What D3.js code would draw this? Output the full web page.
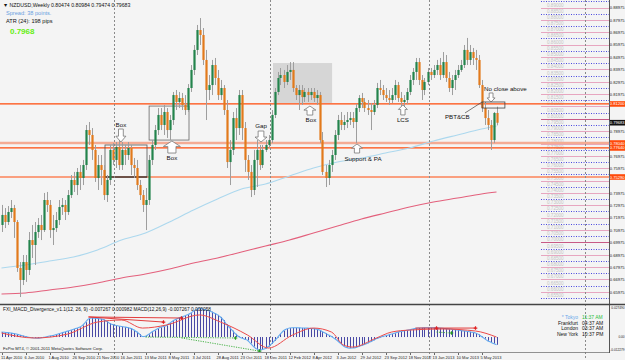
<!DOCTYPE html>
<html><head><meta charset="utf-8">
<script src="https://cdn.jsdelivr.net/npm/d3@7"></script>
<style>
html,body{margin:0;padding:0;background:#f4f4f4;}
svg{display:block;}
text{font-family:"Liberation Sans",Arial,sans-serif;}
</style></head><body>
<svg id="c" width="625" height="360"></svg>
<script>
// ---------- DATA ----------
const symbol = "NZDUSD,Weekly";
const headerOHLC = ["0.80474","0.80984","0.79474","0.79683"];
const startDate = new Date(2010, 3, 11);
const opens = [0.7141,0.7222,0.7165,0.7246,0.7278,0.7165,0.6793,0.6696,0.6841,0.6777,
0.7019,0.6979,0.7084,0.7141,0.7100,0.7343,0.7303,0.7100,0.7116,0.7181,
0.7286,0.7303,0.7246,0.7383,0.7505,0.7464,0.7570,0.7521,0.7626,0.7909,
0.7869,0.7748,0.7521,0.7626,0.7586,0.7383,0.7505,0.7748,0.7667,0.7772,
0.7626,0.7748,0.7707,0.7764,0.7626,0.7602,0.7464,0.7383,0.7303,0.7343,
0.7667,0.7788,0.7909,0.8031,0.7950,0.8055,0.7909,0.7990,0.8192,0.8136,
0.8168,0.8112,0.8071,0.8249,0.8395,0.8557,0.8718,0.8678,0.8476,0.8233,
0.8273,0.8435,0.8330,0.8192,0.8249,0.8071,0.7650,0.7748,0.8006,0.7925,
0.8192,0.7925,0.7667,0.7570,0.7424,0.7667,0.7748,0.7626,0.7748,0.7788,
0.7828,0.8031,0.8217,0.8330,0.8354,0.8298,0.8379,0.8395,0.8249,0.8192,
0.8233,0.8176,0.8217,0.8192,0.8217,0.8168,0.8192,0.7828,0.7570,0.7521,
0.7626,0.7707,0.7869,0.7990,0.7950,0.7974,0.7990,0.8006,0.7974,0.8087,
0.8168,0.8136,0.8087,0.8071,0.8055,0.8112,0.8249,0.8233,0.8192,0.8168,
0.8152,0.8192,0.8273,0.8168,0.8136,0.8152,0.8217,0.8314,0.8379,0.8459,
0.8314,0.8233,0.8298,0.8379,0.8354,0.8395,0.8435,0.8354,0.8459,0.8330,
0.8249,0.8314,0.8354,0.8395,0.8435,0.8557,0.8476,0.8540,0.8492,0.8476,
0.8273,0.8087,0.8006,0.7950,0.7828,0.8047];
const highs = [0.7303,0.7278,0.7294,0.7343,0.7303,0.7181,0.6841,0.6898,0.6898,0.7084,
0.7141,0.7165,0.7197,0.7222,0.7400,0.7408,0.7343,0.7222,0.7246,0.7343,
0.7359,0.7343,0.7424,0.7545,0.7570,0.7602,0.7626,0.7667,0.7950,0.7974,
0.7925,0.7788,0.7707,0.7707,0.7626,0.7545,0.7788,0.7804,0.7812,0.7828,
0.7812,0.7788,0.7812,0.7788,0.7683,0.7667,0.7505,0.7424,0.7440,0.7707,
0.7828,0.7950,0.8087,0.8087,0.8112,0.8087,0.8031,0.8217,0.8233,0.8217,
0.8209,0.8192,0.8281,0.8435,0.8597,0.8759,0.8815,0.8734,0.8557,0.8354,
0.8476,0.8492,0.8395,0.8314,0.8273,0.8152,0.7828,0.8055,0.8087,0.8233,
0.8233,0.7974,0.7707,0.7626,0.7748,0.7828,0.7788,0.7788,0.7828,0.7869,
0.8071,0.8249,0.8379,0.8411,0.8395,0.8435,0.8459,0.8459,0.8273,0.8273,
0.8273,0.8249,0.8249,0.8249,0.8249,0.8233,0.8217,0.7893,0.7626,0.7667,
0.7748,0.7909,0.8031,0.8055,0.8031,0.8055,0.8055,0.8055,0.8120,0.8192,
0.8209,0.8168,0.8152,0.8128,0.8152,0.8290,0.8314,0.8273,0.8249,0.8233,
0.8249,0.8314,0.8298,0.8217,0.8192,0.8249,0.8354,0.8411,0.8492,0.8492,
0.8354,0.8330,0.8411,0.8411,0.8435,0.8476,0.8492,0.8540,0.8516,0.8379,
0.8354,0.8395,0.8435,0.8476,0.8597,0.8654,0.8597,0.8573,0.8557,0.8516,
0.8314,0.8136,0.8071,0.7990,0.8055,0.8098];
const lows = [0.7084,0.7116,0.7141,0.7197,0.7036,0.6761,0.6558,0.6655,0.6680,0.6736,
0.6874,0.6817,0.7036,0.7019,0.7084,0.7246,0.7036,0.6979,0.7084,0.7141,
0.7222,0.7181,0.7222,0.7359,0.7408,0.7383,0.7424,0.7464,0.7586,0.7788,
0.7667,0.7489,0.7424,0.7464,0.7343,0.7327,0.7464,0.7626,0.7602,0.7586,
0.7586,0.7626,0.7667,0.7545,0.7521,0.7424,0.7343,0.7246,0.7100,0.7303,
0.7626,0.7748,0.7869,0.7909,0.7869,0.7845,0.7828,0.7950,0.8071,0.8087,
0.8071,0.8031,0.8055,0.8217,0.8354,0.8516,0.8597,0.8435,0.7990,0.8152,
0.8192,0.8273,0.8152,0.8152,0.8031,0.7602,0.7464,0.7707,0.7828,0.7869,
0.7828,0.7570,0.7505,0.7367,0.7383,0.7448,0.7586,0.7602,0.7731,0.7764,
0.7804,0.8006,0.8192,0.8273,0.8249,0.8273,0.8314,0.8217,0.8152,0.8071,
0.8112,0.8136,0.8136,0.8152,0.8136,0.8112,0.7804,0.7545,0.7448,0.7464,
0.7570,0.7667,0.7828,0.7909,0.7909,0.7925,0.7950,0.7925,0.7804,0.8055,
0.8087,0.8055,0.8031,0.7909,0.8031,0.8087,0.8192,0.8152,0.8136,0.8112,
0.8128,0.8152,0.8136,0.8087,0.8087,0.8120,0.8192,0.8273,0.8314,0.8273,
0.8152,0.8192,0.8273,0.8314,0.8330,0.8354,0.8314,0.8330,0.8298,0.8217,
0.8192,0.8233,0.8330,0.8379,0.8411,0.8435,0.8435,0.8435,0.8395,0.8249,
0.8055,0.7950,0.7909,0.7748,0.7804,0.7947];
const closes = [0.7222,0.7165,0.7246,0.7278,0.7165,0.6793,0.6696,0.6841,0.6777,0.7019,
0.6979,0.7084,0.7141,0.7100,0.7343,0.7303,0.7100,0.7116,0.7181,0.7286,
0.7303,0.7246,0.7383,0.7505,0.7464,0.7570,0.7521,0.7626,0.7909,0.7869,
0.7748,0.7521,0.7626,0.7586,0.7383,0.7505,0.7748,0.7667,0.7772,0.7626,
0.7748,0.7707,0.7764,0.7626,0.7602,0.7464,0.7383,0.7303,0.7343,0.7667,
0.7788,0.7909,0.8031,0.7950,0.8055,0.7909,0.7990,0.8192,0.8136,0.8168,
0.8112,0.8071,0.8249,0.8395,0.8557,0.8718,0.8678,0.8476,0.8233,0.8273,
0.8435,0.8330,0.8192,0.8249,0.8071,0.7650,0.7748,0.8006,0.7925,0.8192,
0.7925,0.7667,0.7570,0.7424,0.7667,0.7748,0.7626,0.7748,0.7788,0.7828,
0.8031,0.8217,0.8330,0.8354,0.8298,0.8379,0.8395,0.8249,0.8192,0.8233,
0.8176,0.8217,0.8192,0.8217,0.8168,0.8192,0.7828,0.7570,0.7521,0.7626,
0.7707,0.7869,0.7990,0.7950,0.7974,0.7990,0.8006,0.7974,0.8087,0.8168,
0.8136,0.8087,0.8071,0.8055,0.8112,0.8249,0.8233,0.8192,0.8168,0.8152,
0.8192,0.8273,0.8168,0.8136,0.8152,0.8217,0.8314,0.8379,0.8459,0.8314,
0.8233,0.8298,0.8379,0.8354,0.8395,0.8435,0.8354,0.8459,0.8330,0.8249,
0.8314,0.8354,0.8395,0.8435,0.8557,0.8476,0.8540,0.8492,0.8476,0.8273,
0.8087,0.8006,0.7950,0.7828,0.8047,0.7968];

// moving averages read at every 8th bar (and the last)
const maIdx   = [0,8,16,24,32,40,48,56,64,72,80,88,96,104,112,120,128,136,144,152,160,165];
const maBlue  = [0.6793,0.6817,0.6850,0.6882,0.6939,0.7019,0.7076,0.7165,0.7262,0.7351,0.7432,0.7472,0.7537,0.7602,0.7650,0.7683,0.7723,0.7764,0.7820,0.7869,0.7917,0.7942];
const maRed   = [0.6583,0.6591,0.6615,0.6639,0.6672,0.6712,0.6744,0.6785,0.6833,0.6874,0.6922,0.6971,0.7019,0.7076,0.7133,0.7189,0.7238,0.7286,0.7327,0.7359,0.7392,0.7408];

// horizontal levels
const levels = [0.8120, 0.7804, 0.7764, 0.7529];
const levelLabels = ["0.81200","0.78040","0.77640","0.75290"];
const currentPrice = 0.79683;

// right price axis labels
const priceTicks = [0.88975,0.87975,0.86975,0.85975,0.84975,0.83975,0.82975,0.81975,0.80975,0.79975,0.78975,0.77975,0.76975,0.75975,0.74975,0.73975,0.72975,0.71975,0.70975,0.69975,0.68975,0.67975,0.66975,0.65975];

// MACD histogram per bar
const macd = [0.0047,0.0045,0.0042,0.0038,0.0034,0.0028,0.0020,0.0012,0.0005,-0.0002,
-0.0007,-0.0009,-0.0010,-0.0008,-0.0003,0.0003,0.0009,0.0015,0.0022,0.0030,
0.0038,0.0047,0.0056,0.0064,0.0074,0.0083,0.0092,0.0110,0.0140,0.0172,
0.0180,0.0178,0.0176,0.0172,0.0165,0.0150,0.0130,0.0118,0.0112,0.0105,
0.0100,0.0095,0.0090,0.0082,0.0068,0.0050,0.0028,0.0005,0.0008,0.0025,
0.0045,0.0062,0.0078,0.0092,0.0100,0.0110,0.0130,0.0150,0.0165,0.0180,
0.0190,0.0200,0.0210,0.0225,0.0245,0.0262,0.0275,0.0265,0.0258,0.0250,
0.0240,0.0225,0.0210,0.0190,0.0160,0.0120,0.0090,0.0060,0.0030,0.0005,
-0.0010,-0.0020,-0.0030,-0.0060,-0.0090,-0.0112,-0.0123,-0.0118,-0.0108,-0.0090,
-0.0065,-0.0035,-0.0005,0.0030,0.0060,0.0075,0.0085,0.0088,0.0088,0.0087,
0.0086,0.0085,0.0084,0.0082,0.0080,0.0075,0.0066,0.0050,0.0035,0.0020,
0.0005,-0.0015,-0.0035,-0.0060,-0.0085,-0.0100,-0.0105,-0.0104,-0.0100,-0.0090,
-0.0080,-0.0070,-0.0058,-0.0045,-0.0030,-0.0015,-0.0005,0.0005,0.0012,0.0020,
0.0028,0.0035,0.0045,0.0052,0.0058,0.0064,0.0068,0.0075,0.0082,0.0085,
0.0086,0.0087,0.0088,0.0088,0.0087,0.0086,0.0085,0.0083,0.0080,0.0077,
0.0074,0.0070,0.0066,0.0062,0.0058,0.0055,0.0050,0.0045,0.0038,0.0025,
0.0005,-0.0015,-0.0035,-0.0048,-0.0062,-0.0073];
const sigIdx = [0,11,22,32,40,47,55,66,73,82,89,97,104,110,114,117,125,130,136,147,158,165];
const sigVal = [0.0038,-0.0009,0.0028,0.0142,0.0161,0.0085,0.0114,0.0209,0.0142,0.0019,-0.0104,0.0019,0.0085,0.0047,-0.0076,-0.0095,-0.0009,0.0047,0.0066,0.0076,0.0057,0.0000];
const divRed   = [[29,0.0190,60,0.0180],[29,0.0190,54,0.0142],[138,0.0085,145,0.0085],[145,0.0085,158,0.0085]];
const divGreen = [[48,0.0000,78,-0.0009],[60,-0.0009,86,-0.0133],[145,0.0047,150,0.0038]];
const indTicks = [0.027490, 0.0, -0.012279];
const indTickLabels = ["0.027490","0.00","-0.012279"];

const sessions = [["* Tokyo","11:37 AM"],["Frankfurt","04:37 AM"],["London","03:37 AM"],["New York","10:37 PM"]];

// ---------- CHART ----------
const svg = d3.select("#c");
const W = 625, H = 360, R = 609;
const n = closes.length;
const x = d3.scaleLinear().domain([0, n-1]).range([1.5, 1.5 + 3*(n-1)]);
const y = d3.scaleLinear().domain([0.6534, 0.8961]).range([300, 0]);
const yI = d3.scaleLinear().domain([-0.012279, 0.027490]).range([350, 308]);

svg.append("rect").attr("width",W).attr("height",H).attr("fill","#f4f4f4");
const defs = svg.append("defs");
defs.append("clipPath").attr("id","mclip").append("rect").attr("x",0).attr("y",0).attr("width",R).attr("height",301);
defs.append("clipPath").attr("id","iclip").append("rect").attr("x",0).attr("y",306).attr("width",R).attr("height",46);

const main = svg.append("g").attr("clip-path","url(#mclip)");

function rectAnn(g, i0, i1, pT, pB){
  return g.append("rect").attr("x",x(i0)).attr("y",y(pT)).attr("width",x(i1)-x(i0)).attr("height",y(pB)-y(pT));
}
rectAnn(main, 90.5, 110.2, 0.8451, 0.8128).attr("fill","#d6d6d6");

// right side grid
const gridK = d3.range(131, 180);
gridK.forEach(k => {
  const p = k*0.005, yy = Math.round(y(p)) + 0.5;
  const blue = k % 2 === 1;
  const strong = (k === 140 || k === 160);
  main.append("line").attr("x1",541).attr("x2",R).attr("y1",yy).attr("y2",yy)
    .attr("stroke", blue ? "#4a4ae0" : (strong ? "#c85a86" : "#e7a6c0"))
    .attr("stroke-width", 1).attr("stroke-dasharray", blue ? "1,1.5" : null);
  if (yy > 6) main.append("text").attr("x",547).attr("y",yy-1.2).attr("font-size",4.6).attr("fill","#c4c4c4").text(p.toFixed(5));
});

// year separators
const allDates = d3.range(200).map(i => d3.timeWeek.offset(startDate, i));
const seps = [];
for (let i=1;i<allDates.length;i++) if (allDates[i].getFullYear()!==allDates[i-1].getFullYear()) seps.push(i);
seps.forEach(i => {
  const xx = Math.round(x(i)) - 1.5;
  if (xx < R) svg.append("line").attr("x1",xx).attr("x2",xx).attr("y1",0).attr("y2",H)
    .attr("stroke","#8a8a8a").attr("stroke-dasharray","2,2").attr("stroke-width",1);
});

// horizontal levels
levels.forEach((p,j) => {
  const yy = y(p);
  main.append("line").attr("x1",0).attr("x2",R).attr("y1",yy).attr("y2",yy)
    .attr("stroke", j===1 ? "#f4ab94" : "#ff4a0a").attr("stroke-width", j===1 ? 2.6 : 1.2);
});

// moving averages
const maLine = d3.line().x(d=>x(d[0])).y(d=>y(d[1])).curve(d3.curveMonotoneX);
main.append("path").attr("d", maLine(maIdx.map((i,k)=>[i,maBlue[k]]))).attr("fill","none").attr("stroke","#acd8ee").attr("stroke-width",1.1);
main.append("path").attr("d", maLine(maIdx.map((i,k)=>[i,maRed[k]]))).attr("fill","none").attr("stroke","#e3607c").attr("stroke-width",1.1);

// box outlines
rectAnn(main, 34.5, 48.5, 0.7788, 0.7529).attr("fill","none").attr("stroke","#555").attr("stroke-width",0.8);
main.append("line").attr("x1",x(34.5)).attr("x2",x(48.5)).attr("y1",y(0.7529)).attr("y2",y(0.7529)).attr("stroke","#222").attr("stroke-width",1);
rectAnn(main, 49.2, 62.5, 0.8103, 0.7828).attr("fill","none").attr("stroke","#666").attr("stroke-width",0.8);

// candles
const bars = d3.range(n);
const cg = main.append("g");
cg.selectAll("line.w").data(bars).join("line")
  .attr("x1",i=>Math.round(x(i))+0.5).attr("x2",i=>Math.round(x(i))+0.5)
  .attr("y1",i=>y(highs[i])).attr("y2",i=>y(lows[i]))
  .attr("stroke","#9e9e9e").attr("stroke-width",1);
cg.selectAll("rect.b").data(bars).join("rect")
  .attr("x",i=>Math.round(x(i))-0.6).attr("width",2.2)
  .attr("y",i=>y(Math.max(opens[i],closes[i])))
  .attr("height",i=>Math.max(0.8, Math.abs(y(opens[i])-y(closes[i]))))
  .attr("fill",i=>closes[i]>=opens[i] ? "#23844c" : "#e27a1c");

// annotations: hollow arrows and labels
function arrow(i, pTip, dir, w, h){
  const cx = x(i), ty = y(pTip);
  const sw = w*0.48, hh = h*0.45;
  let pts;
  if (dir==="down"){
    const top = ty - h;
    pts = [[cx-sw/2,top],[cx+sw/2,top],[cx+sw/2,ty-hh],[cx+w/2,ty-hh],[cx,ty],[cx-w/2,ty-hh],[cx-sw/2,ty-hh]];
  } else {
    const bot = ty + h;
    pts = [[cx-sw/2,bot],[cx+sw/2,bot],[cx+sw/2,ty+hh],[cx+w/2,ty+hh],[cx,ty],[cx-w/2,ty+hh],[cx-sw/2,ty+hh]];
  }
  main.append("polygon").attr("points",pts.map(p=>p.join(",")).join(" "))
    .attr("fill","#ffffff").attr("stroke","#777").attr("stroke-width",0.8);
}
function label(px, py, txt, anchor){
  main.append("text").attr("x",px).attr("y",py).attr("font-size",6.2).attr("fill","#111")
    .attr("text-anchor",anchor||"middle").text(txt);
}
arrow(39.8, 0.7812, "down", 10, 13); label(x(39.8), y(0.7812)-15, "Box");
arrow(56.8, 0.7820, "up", 17, 12);   label(x(56.8), y(0.7820)+19, "Box");
arrow(102.8, 0.8103, "up", 12, 9);   label(x(102.8)+1, y(0.8103)+16, "Box");
arrow(86.5, 0.7812, "down", 12, 11); label(x(86.5), y(0.7812)-14, "Gap");
arrow(118.5, 0.7796, "up", 11, 9);   label(x(118.5)+6, y(0.7796)+17, "Support & PA");
arrow(133.8, 0.8112, "up", 9, 10);   label(x(133.8), y(0.8112)+17, "LCS");
arrow(163.2, 0.8136, "down", 8, 9);  label(x(161.2)-1, y(0.8136)-10.5, "No close above", "start");
rectAnn(main, 160.2, 167.8, 0.8136, 0.8087).attr("fill","none").attr("stroke","#444").attr("stroke-width",0.8);
label(x(147.8), y(0.8006)+1, "PBT&CB", "start");
main.append("line").attr("x1",x(154.5)).attr("y1",y(0.8047)).attr("x2",x(160.2)).attr("y2",y(0.8136))
  .attr("stroke","#444").attr("stroke-width",0.7);

// header text
svg.append("text").attr("x",3).attr("y",7).attr("font-size",5.2).attr("fill","#111")
  .text("\u25BC " + symbol + "  " + headerOHLC.join(" "));
svg.append("text").attr("x",6).attr("y",15).attr("font-size",5.6).attr("fill","#6a9fe0").text("Spread: 38 points.");
svg.append("text").attr("x",6).attr("y",22.5).attr("font-size",5.6).attr("fill","#111").text("ATR (24): 198 pips");
svg.append("text").attr("x",10).attr("y",34).attr("font-size",8).attr("font-weight","bold").attr("fill","#66ee11").text(closes[n-1].toFixed(4));

// right axis
svg.append("line").attr("x1",R+0.5).attr("x2",R+0.5).attr("y1",0).attr("y2",353).attr("stroke","#555").attr("stroke-width",1);
const tagYs = levels.concat([currentPrice]).map(p=>y(p));
priceTicks.forEach(p => {
  const yy = y(p);
  if (tagYs.some(t => Math.abs(t-yy) < 6)) return;
  svg.append("text").attr("x",624.6).attr("y",yy+1.5).attr("text-anchor","end").attr("font-size",4.1).attr("fill","#222").text(p.toFixed(5));
});
function tag(p, txt, col){
  const yy = y(p);
  svg.append("rect").attr("x",R+1).attr("y",yy-2.8).attr("width",W-R-1).attr("height",5.6).attr("fill",col);
  svg.append("text").attr("x",624.6).attr("y",yy+1.5).attr("text-anchor","end").attr("font-size",4.1).attr("fill","#fff").text(txt);
}
levels.forEach((p,j)=>tag(p, levelLabels[j], "#ff4a0a"));
tag(currentPrice, currentPrice.toFixed(5), "#111");

// separator between panels
svg.append("line").attr("x1",0).attr("x2",W).attr("y1",304.5).attr("y2",304.5).attr("stroke","#444").attr("stroke-width",1.6);
svg.append("line").attr("x1",0).attr("x2",R).attr("y1",352.5).attr("y2",352.5).attr("stroke","#777").attr("stroke-width",0.8);

// indicator
const ind = svg.append("g").attr("clip-path","url(#iclip)");
ind.selectAll("line.h").data(bars).join("line")
  .attr("x1",i=>Math.round(x(i))+0.5).attr("x2",i=>Math.round(x(i))+0.5)
  .attr("y1",yI(0)).attr("y2",i=>yI(macd[i]))
  .attr("stroke","#34349c").attr("stroke-width",0.9);
ind.append("path").attr("d", d3.line().x(i=>x(i)).y(i=>yI(macd[i])).curve(d3.curveMonotoneX)(bars))
  .attr("fill","none").attr("stroke","#62aaf0").attr("stroke-width",1.1);
ind.append("path").attr("d", d3.line().x(d=>x(d[0])).y(d=>yI(d[1])).curve(d3.curveMonotoneX)(sigIdx.map((i,k)=>[i,sigVal[k]])))
  .attr("fill","none").attr("stroke","#ec4a4a").attr("stroke-width",1);
function cross(g, i, v, col){
  const cx = x(i), cy = yI(v);
  g.append("path").attr("d",`M${cx-1.8},${cy}H${cx+1.8}M${cx},${cy-1.8}V${cy+1.8}`).attr("stroke",col).attr("stroke-width",1.2);
}
divRed.forEach(d => {
  ind.append("line").attr("x1",x(d[0])).attr("y1",yI(d[1])).attr("x2",x(d[2])).attr("y2",yI(d[3])).attr("stroke","#e02828").attr("stroke-width",0.9);
  cross(ind, d[2], d[3], "#e02020");
});
divGreen.forEach(d => {
  ind.append("line").attr("x1",x(d[0])).attr("y1",yI(d[1])).attr("x2",x(d[2])).attr("y2",yI(d[3])).attr("stroke","#33aa33").attr("stroke-width",0.9).attr("stroke-dasharray","1.2,1.2");
  cross(ind, d[2], d[3], "#229922");
});
svg.append("text").attr("x",3).attr("y",311).attr("font-size",4.8).attr("fill","#111")
  .text("FXI_MACD_Divergence_v1.1(12, 26, 9) -0.007267 0.000982  MACD(12,26,9) -0.007267 0.000058");
svg.append("text").attr("x",3).attr("y",350).attr("font-size",4.2).attr("fill","#222")
  .text("FxPro MT4, \u00A9 2001-2011 MetaQuotes Software Corp.");
indTicks.forEach((v,k)=>{
  svg.append("text").attr("x",624.6).attr("y",yI(v)+1.3).attr("text-anchor","end").attr("font-size",3.2).attr("fill","#222").text(indTickLabels[k]);
});
sessions.forEach((s,k)=>{
  const yy = 319 + k*5.5;
  svg.append("text").attr("x",578).attr("y",yy).attr("text-anchor","end").attr("font-size",5).attr("fill",k===0?"#6aa8ea":"#111").text(s[0]);
  svg.append("text").attr("x",582).attr("y",yy).attr("font-size",5).attr("fill",k===0?"#2ec040":"#111").text(s[1]);
});

// date axis
const fmt = d3.timeFormat("%-d %b %Y");
d3.range(0, n, 8).forEach(i => {
  const xx = Math.round(x(i));
  svg.append("line").attr("x1",xx+0.5).attr("x2",xx+0.5).attr("y1",353).attr("y2",355).attr("stroke","#444").attr("stroke-width",0.8);
  svg.append("text").attr("x",Math.max(1,xx-1.5)).attr("y",359).attr("font-size",4.0).attr("fill","#222").text(fmt(allDates[i]));
});
</script>
</body></html>
